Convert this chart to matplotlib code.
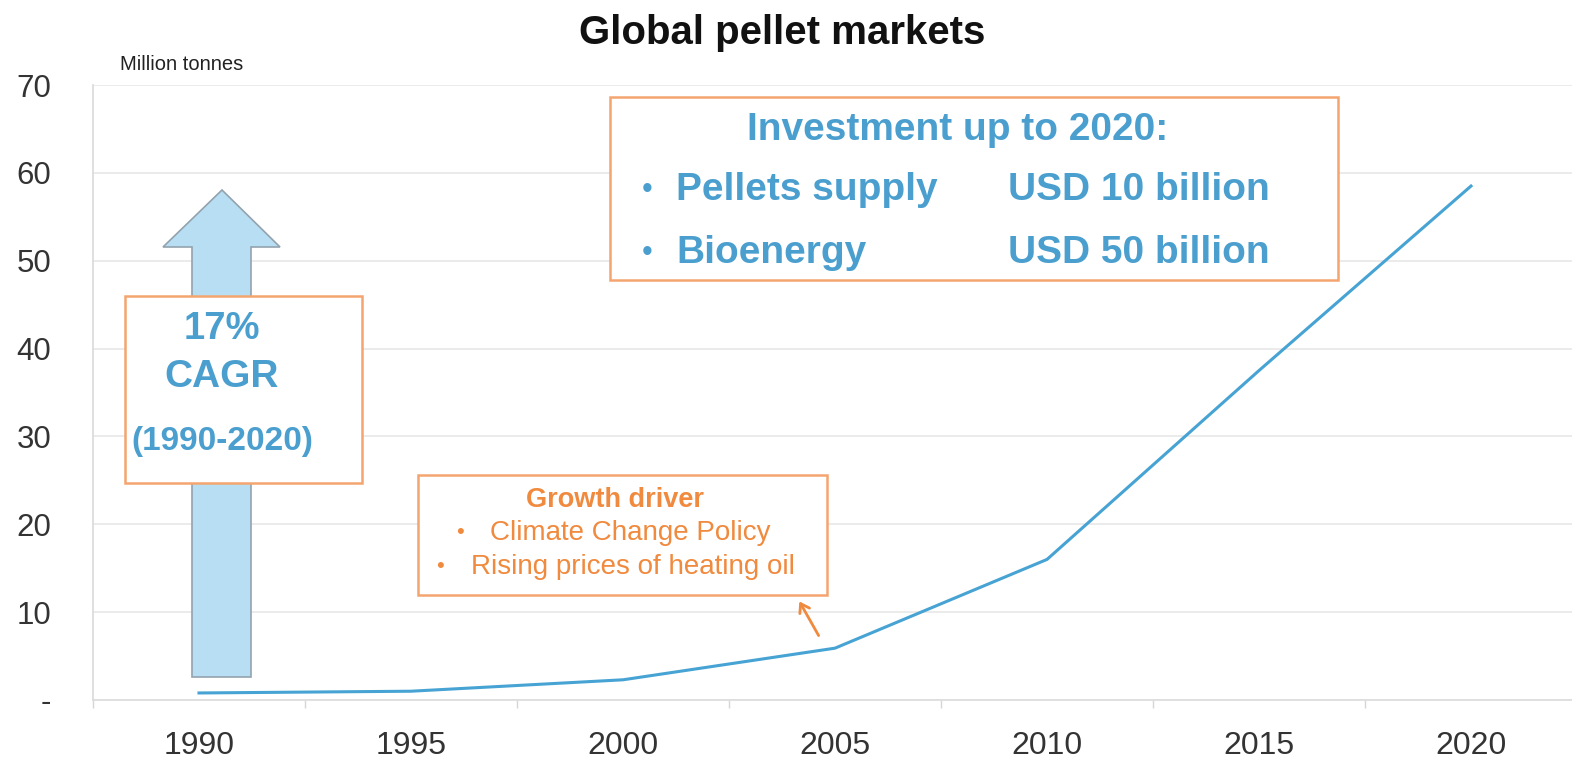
"""Global pellet markets: volume growth line with annotation boxes."""

import matplotlib
matplotlib.use("Agg")
import matplotlib.pyplot as plt
from matplotlib.patches import Rectangle, Polygon, FancyArrowPatch

# ── data ──────────────────────────────────────────────────────────────────────
years = [1990, 1995, 2000, 2005, 2010, 2015, 2020]
volume_mt = [0.8, 1.0, 2.3, 5.9, 16.0, 37.5, 58.5]

y_ticks = [0, 10, 20, 30, 40, 50, 60, 70]
y_labels = ["-", "10", "20", "30", "40", "50", "60", "70"]
x_ticks = [1990, 1995, 2000, 2005, 2010, 2015, 2020]
x_labels = ["1990", "1995", "2000", "2005", "2010", "2015", "2020"]

title = "Global pellet markets"
unit_label = "Million tonnes"
cagr_lines = ["17%", "CAGR", "(1990-2020)"]
invest_title = "Investment up to 2020:"
invest_items = [("Pellets supply", "USD 10 billion"), ("Bioenergy", "USD 50 billion")]
driver_title = "Growth driver"
driver_items = ["Climate Change Policy", "Rising prices of heating oil"]

# ── styling ───────────────────────────────────────────────────────────────────
BLUE = "#46a3d3"
BLUE_TXT = "#4a9fcf"
ORANGE_EDGE = "#f4a56f"
ORANGE_TXT = "#f08a3e"
GRID = "#e8e8e8"
TXT = "#333333"

plt.rcParams["font.family"] = ["Liberation Sans", "DejaVu Sans"]

W, H = 1572, 758
fig = plt.figure(figsize=(W / 100, H / 100), dpi=100)
fig.patch.set_facecolor("white")


def fx(px):
    return px / W


def fy(py):
    return 1 - py / H


# plot area: left edge at x=93px, y=0 at 700px, y=70 at 85px
ax = fig.add_axes([fx(93), fy(700), (W - 93) / W, (700 - 85) / H])
px_per_year = 42.4
ax.set_xlim(1987.5, 1987.5 + (W - 93) / px_per_year)
ax.set_ylim(0, 70)

ax.plot(years, volume_mt, color=BLUE, linewidth=2.2, zorder=3, clip_on=False)

ax.set_yticks(y_ticks)
ax.set_yticklabels(y_labels)
ax.set_xticks(x_ticks)
ax.set_xticklabels(x_labels)
ax.set_xticks([1987.5 + 5 * i for i in range(7)], minor=True)
ax.tick_params(axis="y", length=0, pad=30, labelsize=22.5, labelcolor=TXT)
ax.tick_params(axis="x", which="major", length=0, pad=22, labelsize=23, labelcolor=TXT)
ax.tick_params(axis="x", which="minor", length=6, width=1, color="#d6d6d6")
ax.yaxis.grid(True, color=GRID, linewidth=1.2, zorder=0)
ax.set_axisbelow(True)
for side in ("top", "right"):
    ax.spines[side].set_visible(False)
ax.spines["left"].set_color("#d9d9d9")
ax.spines["bottom"].set_color("#dcdcdc")
ax.spines["left"].set_linewidth(1.2)
ax.spines["bottom"].set_linewidth(1.2)

# ── titles ────────────────────────────────────────────────────────────────────
fig.text(fx(782), fy(33), title, ha="center", va="center",
         fontsize=29, fontweight="bold", color="#111111")
fig.text(fx(120), fy(65), unit_label, ha="left", va="center",
         fontsize=14.5, color="#222222")

# ── CAGR arrow + box ──────────────────────────────────────────────────────────
arrow_px = [(192, 677), (251, 677), (251, 247), (280, 247), (222, 190),
            (163, 247), (192, 247)]
fig.add_artist(Polygon([(fx(x), fy(y)) for x, y in arrow_px], closed=True,
                       transform=fig.transFigure, facecolor="#b8def4",
                       edgecolor="#93a3ae", linewidth=1.2, zorder=2))

fig.add_artist(Rectangle((fx(125), fy(483)), fx(362) - fx(125), fy(296) - fy(483),
                         transform=fig.transFigure, facecolor="white",
                         edgecolor=ORANGE_EDGE, linewidth=1.8, zorder=3))
for txt, ypx, size in zip(cagr_lines, [329, 377, 441], [27.5, 28, 24]):
    fig.text(fx(222), fy(ypx), txt, ha="center", va="center", fontsize=size,
             fontweight="bold", color=BLUE_TXT, zorder=4)

# ── investment box ────────────────────────────────────────────────────────────
fig.add_artist(Rectangle((fx(610), fy(280)), fx(1338) - fx(610), fy(97) - fy(280),
                         transform=fig.transFigure, facecolor="white",
                         edgecolor=ORANGE_EDGE, linewidth=1.8, zorder=3))
fig.text(fx(958), fy(130), invest_title, ha="center", va="center", fontsize=28,
         fontweight="bold", color=BLUE_TXT, zorder=4)
for (item, amount), ypx in zip(invest_items, [190, 253]):
    fig.text(fx(647), fy(ypx), "•", ha="center", va="center", fontsize=22,
             color=BLUE_TXT, zorder=4)
    fig.text(fx(676), fy(ypx), item, ha="left", va="center", fontsize=28,
             fontweight="bold", color=BLUE_TXT, zorder=4)
    fig.text(fx(1008), fy(ypx), amount, ha="left", va="center", fontsize=28,
             fontweight="bold", color=BLUE_TXT, zorder=4)

# ── growth driver box ─────────────────────────────────────────────────────────
fig.add_artist(Rectangle((fx(418), fy(595)), fx(827) - fx(418), fy(475) - fy(595),
                         transform=fig.transFigure, facecolor="white",
                         edgecolor=ORANGE_EDGE, linewidth=1.8, zorder=3))
fig.text(fx(615), fy(500), driver_title, ha="center", va="center", fontsize=19.5,
         fontweight="bold", color=ORANGE_TXT, zorder=4)
for item, bx, tx, ypx in zip(driver_items, [460, 440], [490, 471], [533, 567]):
    fig.text(fx(bx), fy(ypx), "•", ha="center", va="center", fontsize=16,
             color=ORANGE_TXT, zorder=4)
    fig.text(fx(tx), fy(ypx), item, ha="left", va="center", fontsize=20,
             color=ORANGE_TXT, zorder=4)

fig.add_artist(FancyArrowPatch((fx(820), fy(638)), (fx(798), fy(599)),
                               transform=fig.transFigure, arrowstyle="->,head_length=6,head_width=4",
                               color=ORANGE_TXT, linewidth=2, zorder=4))

fig.savefig("out.png", dpi=100, facecolor="white")
